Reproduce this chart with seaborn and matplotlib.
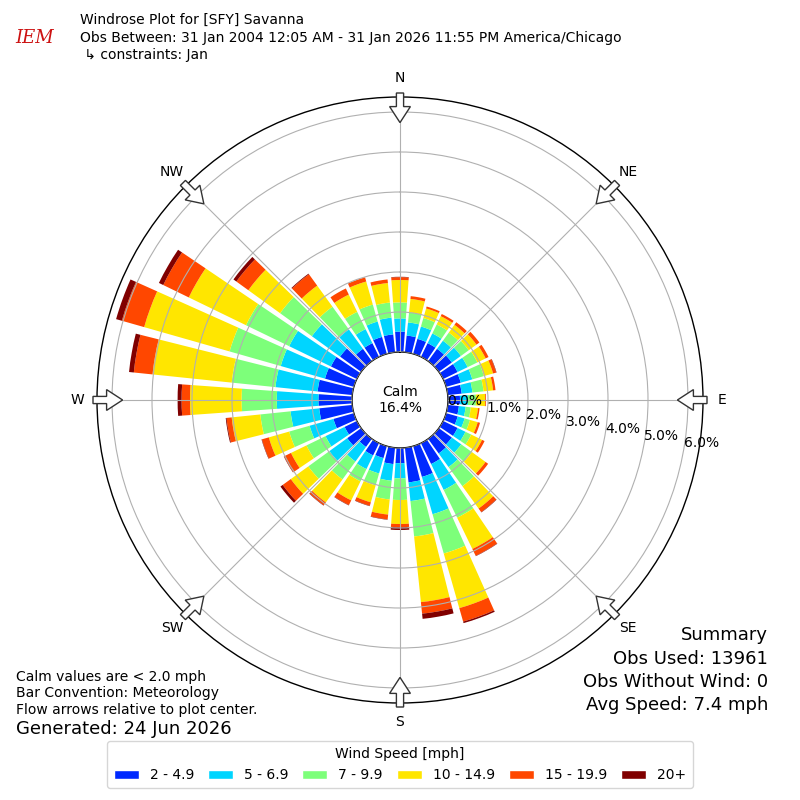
import numpy as np
import matplotlib
matplotlib.use('Agg')
import matplotlib.pyplot as plt
import seaborn as sns
from matplotlib.patches import Patch, FancyArrow

# Wind direction bins (degrees, meteorological convention)
directions = np.arange(0, 360, 10)

# Frequency (%) per direction for each speed bin
speed_labels = ['2 - 4.9', '5 - 6.9', '7 - 9.9', '10 - 14.9', '15 - 19.9', '20+']
pct_2_5 = [0.51, 0.42, 0.39, 0.38, 0.38, 0.40, 0.40, 0.38, 0.35, 0.30, 0.28, 0.30,
           0.40, 0.40, 0.45, 0.58, 0.80, 0.87, 0.38, 0.41, 0.31, 0.34, 0.25, 0.43,
           0.34, 0.53, 0.83, 0.84, 0.87, 0.75, 0.72, 0.65, 0.38, 0.38, 0.44, 0.45]
pct_5_7 = [0.33, 0.33, 0.32, 0.27, 0.25, 0.28, 0.28, 0.30, 0.27, 0.20, 0.17, 0.18,
           0.22, 0.29, 0.42, 0.72, 0.97, 0.47, 0.38, 0.42, 0.40, 0.38, 0.45, 0.55,
           0.53, 0.62, 0.72, 1.04, 1.06, 1.15, 1.16, 0.87, 0.60, 0.39, 0.40, 0.42]
pct_7_10 = [0.40, 0.25, 0.22, 0.25, 0.25, 0.24, 0.27, 0.30, 0.28, 0.20, 0.13, 0.14,
            0.16, 0.33, 0.59, 0.77, 1.02, 0.89, 0.54, 0.47, 0.31, 0.34, 0.55, 0.65,
            0.53, 0.53, 0.76, 0.88, 1.10, 1.33, 1.20, 0.98, 0.70, 0.48, 0.44, 0.38]
pct_10_15 = [0.56, 0.34, 0.25, 0.23, 0.24, 0.24, 0.23, 0.24, 0.24, 0.23, 0.18, 0.20,
             0.30, 0.42, 0.69, 0.87, 1.42, 1.65, 0.60, 0.38, 0.44, 0.53, 0.71, 0.54,
             0.43, 0.53, 0.72, 1.29, 1.99, 2.22, 1.59, 0.98, 0.65, 0.48, 0.60, 0.49]
pct_15_20 = [0.07, 0.07, 0.05, 0.06, 0.08, 0.09, 0.08, 0.08, 0.06, 0.02, 0.04, 0.06,
             0.07, 0.08, 0.11, 0.19, 0.35, 0.29, 0.08, 0.12, 0.09, 0.13, 0.09, 0.25,
             0.19, 0.18, 0.13, 0.21, 0.47, 0.58, 0.71, 0.37, 0.35, 0.17, 0.11, 0.09]
pct_20_up = [0.01, 0.00, 0.00, 0.00, 0.00, 0.00, 0.00, 0.01, 0.00, 0.00, 0.00, 0.00,
             0.00, 0.00, 0.01, 0.01, 0.04, 0.13, 0.07, 0.01, 0.01, 0.01, 0.01, 0.07,
             0.01, 0.01, 0.02, 0.10, 0.12, 0.15, 0.12, 0.09, 0.02, 0.00, 0.00, 0.00]
series = [pct_2_5, pct_5_7, pct_7_10, pct_10_15, pct_15_20, pct_20_up]

calm_pct = 16.4
r_ticks = [0, 1, 2, 3, 4, 5, 6]
compass = ['N', 'NE', 'E', 'SE', 'S', 'SW', 'W', 'NW']

sns.set_theme(style='white')
plt.rcParams['font.family'] = ['DejaVu Sans']
plt.rcParams['text.color'] = 'black'
plt.rcParams['xtick.color'] = 'black'
plt.rcParams['ytick.color'] = 'black'
plt.rcParams['xtick.labelcolor'] = 'black'
plt.rcParams['ytick.labelcolor'] = 'black'

jet = matplotlib.colormaps['jet']
colors = sns.color_palette(jet(np.linspace(0, 1, 7)[1:]))

fig = plt.figure(figsize=(8, 8), dpi=100)
ax = fig.add_axes([0.12125, 0.12125, 0.7575, 0.7575], projection='polar')
ax.set_theta_zero_location('N')
ax.set_theta_direction(-1)
ax.set_rorigin(-1.2)
ax.set_ylim(0, 6.375)

theta = np.radians(directions)
bottom = np.zeros(len(directions))
for vals, color in zip(series, colors):
    vals = np.array(vals)
    ax.bar(theta, vals, width=np.radians(8.2), bottom=bottom,
           color=color, edgecolor='none', zorder=1)
    bottom += vals

ax.set_axisbelow(False)
ax.set_yticks(r_ticks)
ax.set_yticklabels([f'{v:.1f}%' for v in r_ticks], fontsize=10)
ax.set_rlabel_position(100)
ax.set_xticks(np.radians(np.arange(0, 360, 45)))
ax.set_xticklabels(compass, fontsize=10)
ax.tick_params(axis='x', pad=1)
ax.grid(True, color='#b0b0b0', linewidth=0.8)
for sp in ax.spines.values():
    sp.set_edgecolor('black')
    sp.set_linewidth(1.0)

fig.text(0.5, 0.5, f'Calm\n{calm_pct:.1f}%', ha='center', va='center', fontsize=10)

# hollow flow arrows at the compass points
for a in np.radians(np.arange(0, 360, 45)):
    ux, uy = np.sin(a), np.cos(a)
    r0 = 307 / 800
    arr = FancyArrow(0.5 + r0 * ux, 0.5 + r0 * uy, -0.037 * ux, -0.037 * uy,
                     width=0.009, head_width=0.026, head_length=0.02,
                     length_includes_head=True, facecolor='white',
                     edgecolor='#333333', linewidth=1.0,
                     transform=fig.transFigure, zorder=10)
    fig.add_artist(arr)

# header
fig.text(0.1, 1 - 20 / 800, 'Windrose Plot for [SFY] Savanna', fontsize=10, va='center')
fig.text(0.1, 1 - 38 / 800,
         'Obs Between: 31 Jan 2004 12:05 AM - 31 Jan 2026 11:55 PM America/Chicago',
         fontsize=10, va='center')
fig.text(0.1, 1 - 55 / 800, ' \u21b3 constraints: Jan', fontsize=10, va='center')
fig.text(35 / 800, 1 - 38 / 800, 'IEM', color='#cc1111', fontsize=13,
         family='DejaVu Serif', style='italic', ha='center', va='center')

# footer notes
fig.text(16 / 800, 1 - 677 / 800, 'Calm values are < 2.0 mph', fontsize=10, va='center')
fig.text(16 / 800, 1 - 693 / 800, 'Bar Convention: Meteorology', fontsize=10, va='center')
fig.text(16 / 800, 1 - 710 / 800, 'Flow arrows relative to plot center.', fontsize=10, va='center')
fig.text(16 / 800, 1 - 729 / 800, 'Generated: 24 Jun 2026', fontsize=13, va='center')

summary = ['Summary', 'Obs Used: 13961', 'Obs Without Wind: 0', 'Avg Speed: 7.4 mph']
for i, line in enumerate(summary):
    fig.text(768 / 800, 1 - (635 + 23.5 * i) / 800, line, fontsize=13,
             ha='right', va='center')

handles = [Patch(facecolor=c) for c in colors]
fig.legend(handles, speed_labels, ncol=6, loc='lower center',
           bbox_to_anchor=(0.5, 0.006), title='Wind Speed [mph]',
           fontsize=10, title_fontsize=10, frameon=True, handlelength=1.8,
           handleheight=0.6, handletextpad=0.8, columnspacing=1.0,
           borderpad=0.45)

fig.savefig('out.png', dpi=100)
